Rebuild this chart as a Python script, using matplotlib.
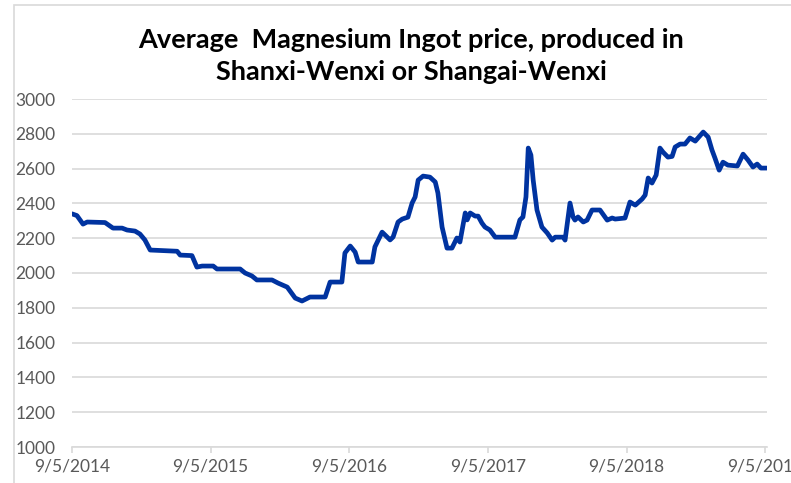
import matplotlib
matplotlib.use("Agg")
import matplotlib.pyplot as plt
from matplotlib.patches import Rectangle
import pandas as pd

dates = ["2014-09-05","2014-09-18","2014-10-04","2014-10-15","2014-12-01","2014-12-22",
         "2015-01-15","2015-01-28","2015-02-18","2015-03-03","2015-03-16","2015-03-30",
         "2015-06-09","2015-06-17","2015-07-18","2015-07-31","2015-08-14","2015-09-12",
         "2015-09-22","2015-11-22","2015-12-05","2015-12-23","2016-01-05","2016-02-14",
         "2016-03-01","2016-03-25","2016-04-15","2016-05-03","2016-05-24","2016-07-03",
         "2016-07-16","2016-08-16","2016-08-24","2016-09-07","2016-09-20","2016-09-28",
         "2016-11-04","2016-11-11","2016-11-30","2016-12-08","2016-12-21","2016-12-29",
         "2017-01-11","2017-01-22","2017-02-06","2017-02-17","2017-02-25","2017-03-05",
         "2017-03-18","2017-04-05","2017-04-19","2017-04-26","2017-05-07","2017-05-20",
         "2017-06-02","2017-06-15","2017-06-23","2017-07-07","2017-07-12","2017-07-20",
         "2017-08-02","2017-08-10","2017-08-20","2017-08-28","2017-09-10","2017-09-24",
         "2017-11-15","2017-11-28","2017-12-06","2017-12-14","2017-12-20","2017-12-27",
         "2018-01-02","2018-01-12","2018-01-25","2018-02-08","2018-02-21","2018-03-01",
         "2018-03-22","2018-03-27","2018-04-09","2018-04-17","2018-04-22","2018-04-30",
         "2018-05-14","2018-05-24","2018-06-06","2018-06-27","2018-07-16","2018-07-29",
         "2018-08-06","2018-09-01","2018-09-14","2018-09-28","2018-10-16","2018-10-24",
         "2018-11-01","2018-11-11","2018-11-22","2018-12-02","2018-12-10","2018-12-23",
         "2019-01-03","2019-01-11","2019-01-24","2019-02-06","2019-02-19","2019-03-05",
         "2019-03-26","2019-04-08","2019-04-18","2019-04-26","2019-05-07","2019-05-17",
         "2019-05-30","2019-06-24","2019-07-09","2019-07-22","2019-08-04","2019-08-15",
         "2019-08-25","2019-09-09"]
prices = [2340,2330,2281,2293,2290,2258,
          2258,2247,2241,2224,2190,2132,
          2125,2103,2100,2034,2040,2040,
          2023,2023,2000,1983,1960,1960,
          1942,1919,1856,1839,1862,1862,
          1948,1948,2115,2155,2120,2063,
          2063,2150,2235,2218,2190,2207,
          2293,2310,2321,2402,2437,2534,
          2557,2551,2523,2460,2264,2143,
          2143,2201,2178,2345,2305,2345,
          2327,2327,2287,2264,2247,2206,
          2206,2305,2322,2437,2718,2678,
          2534,2362,2264,2230,2189,2206,
          2206,2189,2402,2322,2304,2322,
          2293,2304,2362,2362,2304,2316,
          2310,2316,2408,2390,2425,2448,
          2546,2517,2563,2718,2695,2666,
          2670,2724,2741,2741,2776,2758,
          2810,2781,2707,2660,2591,2637,
          2620,2615,2683,2649,2609,2626,
          2603,2603]
tick_labels = ["9/5/2014","9/5/2015","9/5/2016","9/5/2017","9/5/2018","9/5/2019"]
tick_dates = ["2014-09-05","2015-09-05","2016-09-05","2017-09-05","2018-09-05","2019-09-05"]
title = "Average  Magnesium Ingot price, produced in\nShanxi-Wenxi or Shangai-Wenxi"

plt.rcParams['font.family'] = ['Lato', 'DejaVu Sans']

W, H = 791, 483
fig = plt.figure(figsize=(W/100, H/100), dpi=100)
ax = fig.add_axes([72/W, 36/H, (767-72)/W, (447-99)/H])

x = pd.to_datetime(dates)
ax.plot(x, prices, color='#0033A0', lw=3.4, solid_joinstyle='round', solid_capstyle='round')

ax.set_ylim(1000, 3000)
ax.set_yticks(range(1000, 3001, 200))
ax.set_xlim(pd.Timestamp("2014-09-05"), pd.Timestamp("2019-09-10"))
ax.set_xticks(pd.to_datetime(tick_dates))
ax.set_xticklabels(tick_labels)
ax.grid(axis='y', color='#D9D9D9', lw=1.2)
ax.set_axisbelow(True)
for s in ['top', 'right', 'left']:
    ax.spines[s].set_visible(False)
ax.spines['bottom'].set_color('#D9D9D9')
ax.spines['bottom'].set_linewidth(1.2)
ax.tick_params(axis='y', length=0, pad=12, labelsize=12.5, labelcolor='#595959')
ax.tick_params(axis='x', length=4, color='#D9D9D9', width=1.2, pad=4, labelsize=12.5, labelcolor='#595959')
for lbl in ax.get_xticklabels():
    lbl.set_clip_on(False)

fig.text(411/W, 1 - 56/H, title, ha='center', va='center', fontsize=19.5, fontweight='bold',
         color='black', linespacing=1.42)

fig.patches.append(Rectangle((14/W, -0.1), 1.2, 1.1 - 5/H, transform=fig.transFigure,
                             fill=False, edgecolor='#D9D9D9', lw=1.2))

fig.savefig("out.png", dpi=100)
